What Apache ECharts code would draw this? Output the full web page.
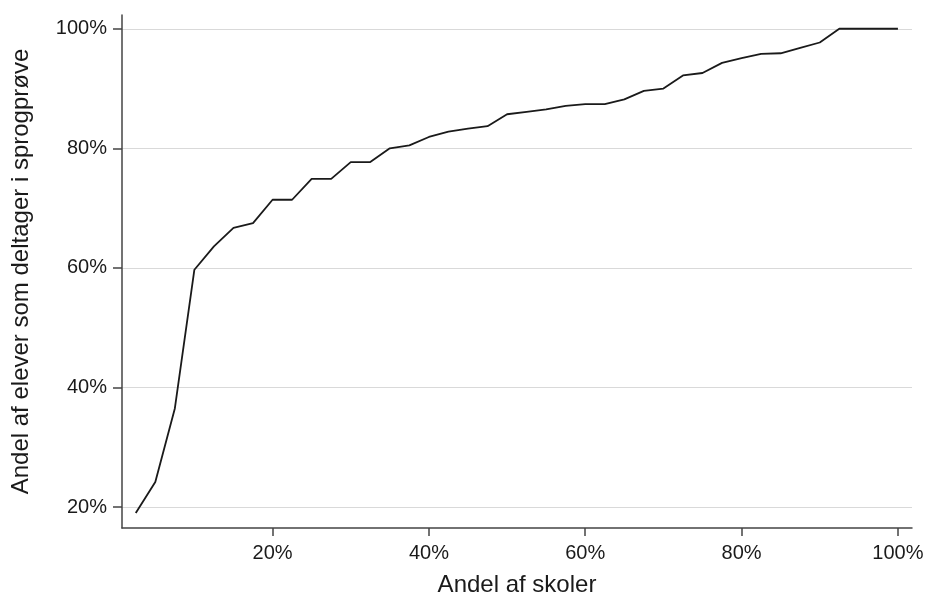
<!DOCTYPE html>
<html>
<head>
<meta charset="utf-8">
<script src="https://cdn.jsdelivr.net/npm/echarts@6/dist/echarts.min.js"></script>
<style>
  html, body { margin: 0; padding: 0; background: #fff; }
  #chart { width: 926px; height: 594px; }
</style>
</head>
<body>
<div id="chart"></div>
<script>
// share of schools (%) and share of pupils taking the language test (%)
var skoler = [2.5, 5, 7.5, 10, 12.5, 15, 17.5, 20, 22.5, 25, 27.5, 30, 32.5, 35, 37.5, 40,
  42.5, 45, 47.5, 50, 52.5, 55, 57.5, 60, 62.5, 65, 67.5, 70, 72.5, 75, 77.5, 80,
  82.5, 85, 87.5, 90, 92.5, 95, 97.5, 100];
var elever = [19.0, 24.2, 36.5, 59.7, 63.6, 66.7, 67.5, 71.4, 71.4, 74.9, 74.9, 77.7, 77.7, 80.0, 80.5, 81.9,
  82.8, 83.3, 83.7, 85.7, 86.1, 86.5, 87.1, 87.4, 87.4, 88.2, 89.6, 90.0, 92.2, 92.6, 94.3, 95.1,
  95.8, 95.9, 96.8, 97.7, 100, 100, 100, 100];
var tickValues = [20, 40, 60, 80, 100];

var chart = echarts.init(document.getElementById('chart'));
var font = 'Liberation Sans, Arial, sans-serif';

chart.setOption({
  animation: false,
  backgroundColor: '#fff',
  grid: {left: 122, right: 14, top: 15, bottom: 66, outerBoundsMode: 'none', containLabel: false},
  xAxis: {
    type: 'value',
    min: 0.74,
    max: 101.8,
    name: 'Andel af skoler',
    nameLocation: 'middle',
    nameGap: 57,
    nameTextStyle: {fontFamily: font, fontSize: 24, color: '#1a1a1a', verticalAlign: 'middle'},
    axisLine: {show: true, lineStyle: {color: '#444', width: 1.5}},
    axisTick: {show: true, customValues: tickValues, length: 8, lineStyle: {color: '#444', width: 1.5}},
    axisLabel: {customValues: tickValues, formatter: '{value}%', margin: 15,
      fontFamily: font, fontSize: 20, color: '#1a1a1a'},
    splitLine: {show: false}
  },
  yAxis: {
    type: 'value',
    min: 16.5,
    max: 102.3,
    name: 'Andel af elever som deltager i sprogprøve',
    nameLocation: 'middle',
    nameGap: 101,
    nameTextStyle: {fontFamily: font, fontSize: 24, color: '#1a1a1a', verticalAlign: 'middle'},
    axisLine: {show: true, lineStyle: {color: '#444', width: 1.5}},
    axisTick: {show: true, customValues: tickValues, length: 9, lineStyle: {color: '#444', width: 1.5}},
    axisLabel: {customValues: tickValues, formatter: '{value}%', margin: 15,
      fontFamily: font, fontSize: 20, color: '#1a1a1a'},
    splitLine: {show: true, lineStyle: {color: '#d9d9d9', width: 1.2}}
  },
  series: [{
    type: 'line',
    data: skoler.map(function (x, i) { return [x, elever[i]]; }),
    showSymbol: false,
    lineStyle: {color: '#1a1a1a', width: 1.8},
    z: 3
  }]
});
</script>
</body>
</html>
